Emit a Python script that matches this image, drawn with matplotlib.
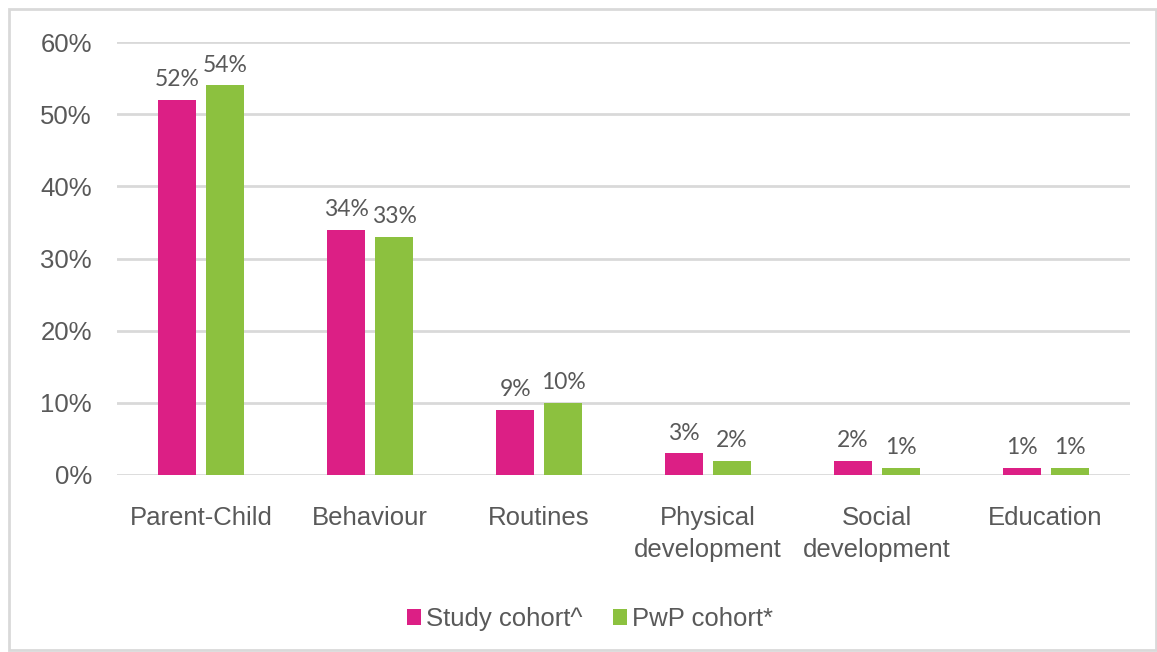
import matplotlib
matplotlib.use("Agg")
import matplotlib.pyplot as plt
import numpy as np
from matplotlib.patches import Rectangle

categories = ["Parent-Child", "Behaviour", "Routines", "Physical\ndevelopment",
              "Social\ndevelopment", "Education"]
study_cohort = [52, 34, 9, 3, 2, 1]
pwp_cohort = [54, 33, 10, 2, 1, 1]
series_names = ["Study cohort^", "PwP cohort*"]
yticks = [0, 10, 20, 30, 40, 50, 60]

PINK = "#dc1f85"
GREEN = "#8cc13f"
TEXT = "#595959"
GRID = "#d9d9d9"

fig = plt.figure(figsize=(11.57, 6.52), dpi=100)
fig.patch.set_facecolor("white")

# outer chart border
fig.patches.append(Rectangle((9 / 1157, 2 / 652), 1 - 9 / 1157 - 1 / 1157, 1 - 11 / 652,
                             transform=fig.transFigure, fill=False,
                             edgecolor="#d9d9d9", linewidth=2))

ax = fig.add_axes([117 / 1157, 1 - 475 / 652, (1130 - 117) / 1157, (475 - 42) / 652])

x = np.arange(len(categories))
w = 0.225
off = 0.142
b1 = ax.bar(x - off, study_cohort, w, color=PINK, label=series_names[0], zorder=3)
b2 = ax.bar(x + off, pwp_cohort, w, color=GREEN, label=series_names[1], zorder=3)

label_font = ["Lato", "DejaVu Sans"]
for bars, vals in ((b1, study_cohort), (b2, pwp_cohort)):
    for rect, v in zip(bars, vals):
        ax.annotate(f"{v}%", (rect.get_x() + rect.get_width() / 2, v),
                    xytext=(0, 7), textcoords="offset points",
                    ha="center", va="bottom", fontsize=16.5, color=TEXT,
                    family=label_font)

ax.set_xlim(-0.5, len(categories) - 0.5)
ax.set_ylim(0, 60)
ax.set_yticks(yticks)
ax.set_yticklabels([f"{t}%" for t in yticks], family="Liberation Sans",
                   fontsize=18.5, color=TEXT)
ax.set_xticks(x)
ax.set_xticklabels(categories, family="Liberation Sans", fontsize=18.5,
                   color=TEXT, linespacing=1.45)
ax.tick_params(axis="both", length=0)
ax.tick_params(axis="y", pad=18)
ax.tick_params(axis="x", pad=22)

ax.grid(axis="y", color=GRID, linewidth=2, zorder=0)
for s in ax.spines.values():
    s.set_visible(False)

leg = fig.legend(handles=[b1, b2], labels=series_names, loc="center",
                 bbox_to_anchor=(590 / 1157, 1 - 619 / 652), ncol=2,
                 frameon=False, prop={"family": "Liberation Sans", "size": 18.5},
                 handlelength=0.55, handleheight=0.55, handletextpad=0.2,
                 columnspacing=1.2)
for t in leg.get_texts():
    t.set_color(TEXT)

fig.savefig("out.png", dpi=100)
